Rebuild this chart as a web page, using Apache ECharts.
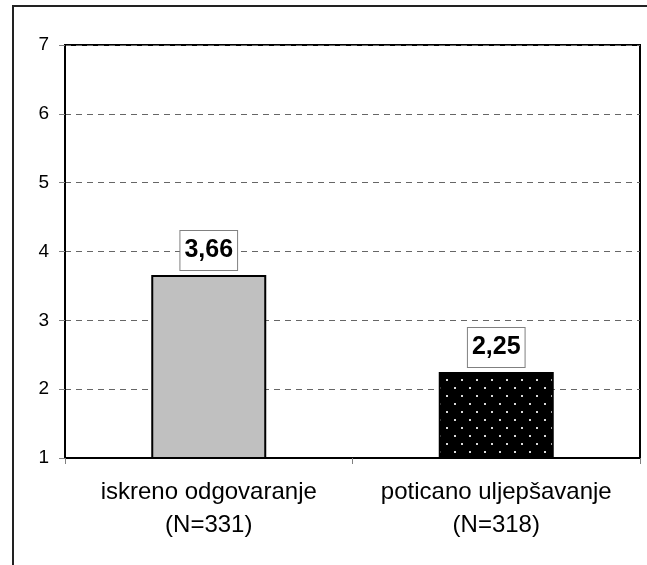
<!DOCTYPE html>
<html>
<head>
<meta charset="utf-8">
<script src="https://cdn.jsdelivr.net/npm/echarts@6/dist/echarts.min.js"></script>
<style>
  html, body { margin: 0; padding: 0; background: #fff; }
  #chart { width: 647px; height: 565px; }
</style>
</head>
<body>
<div id="chart"></div>
<script>
// podaci
const categories = ['iskreno odgovaranje', 'poticano uljepšavanje']
const sampleSizes = ['(N=331)', '(N=318)']
const values = [3.66, 2.25]
const valueLabels = ['3,66', '2,25']
const yTicks = [1, 2, 3, 4, 5, 6, 7]

// crna podloga s bijelim tockicama
const makeDots = () => {
  const c = document.createElement('canvas')
  c.width = 15
  c.height = 16
  const ctx = c.getContext('2d')
  ctx.fillStyle = '#000'
  ctx.fillRect(0, 0, 15, 16)
  ctx.fillStyle = '#d8d8d8'
  ctx.fillRect(4, 3, 2, 2)
  ctx.fillRect(11, 11, 2, 2)
  return c
}

const barColors = ['#c0c0c0', { image: makeDots(), repeat: 'repeat' }]

const myChart = echarts.init(document.getElementById('chart'))

const option = {
  animation: false,
  backgroundColor: '#fff',
  textStyle: { fontFamily: 'Liberation Sans, Arial, sans-serif' },
  graphic: [
    {
      type: 'rect',
      shape: { x: 13, y: 6, width: 700, height: 700 },
      style: { fill: 'none', stroke: '#222', lineWidth: 2 },
      silent: true
    }
  ],
  grid: {
    left: 65,
    right: 7,
    top: 45,
    bottom: 107,
    show: true,
    borderColor: '#000',
    borderWidth: 2
  },
  xAxis: {
    type: 'category',
    data: categories.map((c, i) => c + '\n' + sampleSizes[i]),
    axisLine: { lineStyle: { color: '#000', width: 2 } },
    axisTick: { show: true, length: 6, lineStyle: { color: '#808080' } },
    axisLabel: {
      interval: 0,
      hideOverlap: false,
      color: '#000',
      fontSize: 24,
      lineHeight: 33,
      margin: 18
    }
  },
  yAxis: {
    type: 'value',
    min: yTicks[0],
    max: yTicks[yTicks.length - 1],
    interval: 1,
    axisLine: { show: true, lineStyle: { color: '#000', width: 2 } },
    axisTick: { show: true, length: 6, lineStyle: { color: '#808080' } },
    axisLabel: { color: '#000', fontSize: 19, margin: 16 },
    splitLine: {
      show: true,
      lineStyle: { color: '#666', type: [6, 5], width: 1 }
    }
  },
  series: [
    {
      type: 'bar',
      barWidth: '40%',
      data: values.map((v, i) => ({
        value: v,
        itemStyle: { color: barColors[i], borderColor: '#000', borderWidth: 2 }
      })),
      label: {
        show: true,
        position: 'top',
        distance: 5,
        formatter: p => valueLabels[p.dataIndex],
        color: '#000',
        fontSize: 25,
        fontWeight: 'bold',
        backgroundColor: '#fff',
        borderColor: '#808080',
        borderWidth: 1,
        padding: [7, 4]
      }
    }
  ]
}

myChart.setOption(option)
</script>
</body>
</html>
